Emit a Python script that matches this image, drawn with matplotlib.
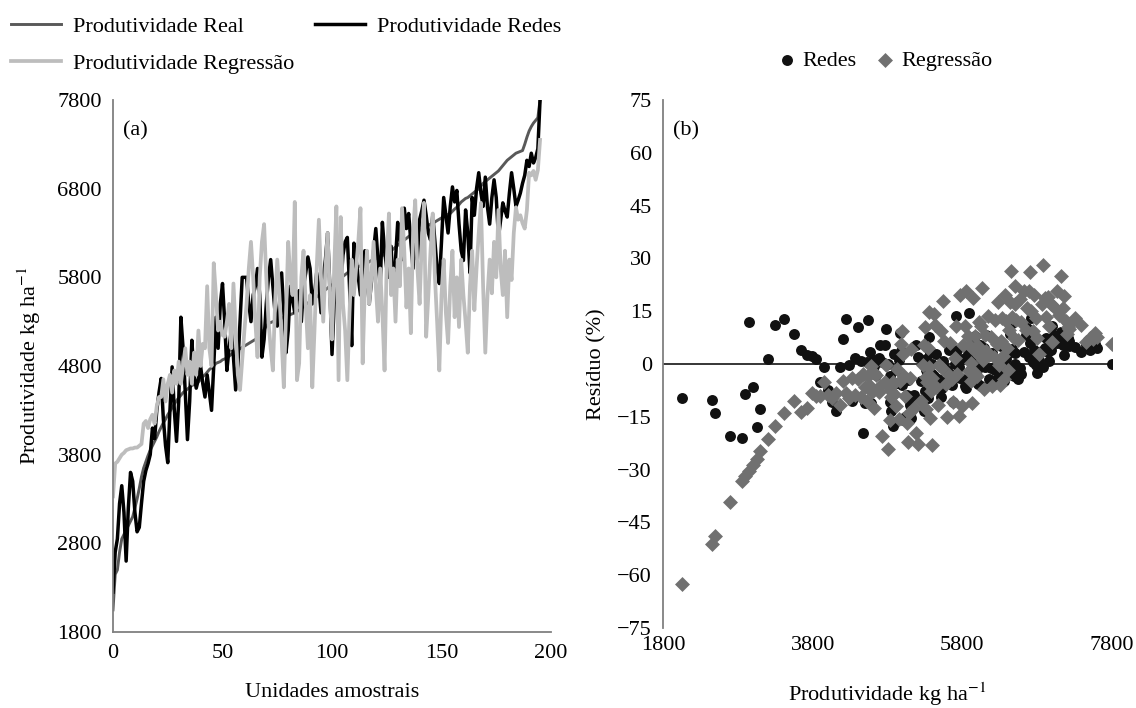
import matplotlib
matplotlib.use('Agg')
import matplotlib.pyplot as plt
import numpy as np

# ---------------- data ----------------
real = [
    2050, 2450, 2500, 2700, 2850, 2900, 2950, 3000, 3050, 3100,
    3200, 3300, 3420, 3550, 3650, 3720, 3790, 3850, 3900, 3950,
    4000, 4060, 4110, 4160, 4200, 4250, 4290, 4330, 4370, 4410,
    4440, 4470, 4500, 4520, 4540, 4560, 4580, 4590, 4600, 4620,
    4650, 4680, 4700, 4730, 4760, 4780, 4800, 4830, 4840, 4850,
    4870, 4880, 4890, 4910, 4930, 4950, 4965, 4980, 4995, 5010,
    5025, 5040, 5055, 5070, 5085, 5100, 5120, 5150, 5180, 5210,
    5250, 5280, 5290, 5300, 5310, 5320, 5330, 5340, 5350, 5360,
    5370, 5380, 5390, 5400, 5415, 5430, 5450, 5470, 5490, 5510,
    5530, 5545, 5560, 5580, 5600, 5620, 5640, 5660, 5680, 5700,
    5715, 5730, 5750, 5770, 5790, 5810, 5830, 5850, 5870, 5885,
    5900, 5910, 5920, 5930, 5940, 5950, 5960, 5975, 5990, 6000,
    6010, 6020, 6030, 6045, 6060, 6070, 6085, 6100, 6120, 6140,
    6160, 6180, 6200, 6220, 6240, 6260, 6280, 6290, 6300, 6320,
    6330, 6345, 6360, 6370, 6385, 6400, 6410, 6425, 6440, 6455,
    6470, 6485, 6500, 6510, 6520, 6545, 6570, 6590, 6620, 6650,
    6670, 6690, 6700, 6720, 6740, 6760, 6780, 6800, 6830, 6860,
    6880, 6900, 6920, 6940, 6960, 6980, 7000, 7030, 7060, 7090,
    7120, 7140, 7160, 7180, 7200, 7210, 7220, 7230, 7300, 7380,
    7450, 7500, 7540, 7570, 7600, 7800,
]

redes = [
    2250, 2700, 2850, 3250, 3450, 3150, 2600, 3200, 3600, 3500,
    3150, 2930, 2980, 3250, 3500, 3620, 3700, 3800, 4100, 3980,
    4300, 4500, 4660, 4200, 3900, 3710, 4300, 4790, 4300, 3950,
    4400, 5350, 5000, 4500, 3970, 4400, 5090, 4700, 4550, 4650,
    4800, 4600, 4450, 4700, 4500, 4300, 4800, 5350, 5000, 5500,
    5730, 5300, 4750, 5000, 5200, 4900, 4530, 4800, 5300, 5800,
    5800, 5800, 5500, 5300, 5600, 5700, 5900, 5600, 4900, 5100,
    5500, 5800, 6000, 5700, 5400, 5250, 5500, 5850, 5400, 4950,
    5200, 5700, 5550, 5400, 5600, 5650, 5300, 5700, 5850, 6030,
    5900, 5500, 5600, 5850, 5700, 5400, 5800, 6000, 6300, 5700,
    4930, 5500, 5800, 6000, 5700, 6050, 6200, 6250, 5700, 5030,
    6185, 6000, 5800, 5600, 5900, 6100, 5800, 5500, 5750, 6100,
    6350, 6000, 5700, 6420, 6100, 5900, 5800, 6150, 5620, 6000,
    6420, 6250, 6000, 6580, 6350, 6520, 6200, 5900, 6300, 6000,
    6450, 6550, 6670, 6500, 6300, 6220, 6500, 6200, 5900, 5730,
    6200, 6700, 6500, 6300, 6600, 6820, 6650, 6780, 6400, 6100,
    5990, 6560, 6300, 5850, 6700, 6500, 6800, 6980, 6750, 6600,
    6930, 6590, 6400, 6700, 6900, 6700, 6250, 6450, 6640, 6550,
    6480, 6750, 6980, 6800, 6600, 6670, 6750, 6860, 6950, 7120,
    7050, 7200, 7090, 7150, 7250, 7800,
]

regressao = [
    3330, 3700, 3720, 3760, 3800, 3820, 3850, 3860, 3870, 3870,
    3880, 3880, 3900, 3920, 4150, 4180, 4100, 4200, 4250, 4150,
    4350, 4450, 4450, 4650, 4400, 4600, 4700, 4500, 4750, 4600,
    4850, 4600, 4800, 5000, 4700, 4850, 4600, 4950, 4700, 5200,
    4800, 5050, 5000, 5700, 5000, 4800, 5960, 5600, 5200, 5300,
    5150, 5130, 5300, 5500, 5000, 5730, 5200, 4700, 4530, 4870,
    5200, 5500, 5900, 6200, 5800, 5300, 4900, 5800, 6200, 6400,
    5800, 5300, 5000, 4750, 5500, 6000, 5600, 5100, 4560, 5400,
    6200, 5800, 5600, 6650, 4640, 4830, 5800, 6100, 5500, 5000,
    5600, 4560, 5200, 5900, 6450, 5800, 5300, 5900, 6300, 5600,
    5100, 5900, 6600, 4640, 6480, 5500, 5200, 4640, 5400, 6000,
    5600, 5900, 6200, 6580, 4830, 5700, 6100, 5500, 5800, 6200,
    5700, 5300, 5900, 5400, 4750, 6000, 6520, 5600, 5900, 5300,
    6000, 5700, 6580, 6100, 5460, 5900, 5170, 6300, 6670, 5900,
    5500, 6200, 6640, 5130, 5600, 6100, 6520, 5800, 5300, 4750,
    5600, 6000, 5400, 5060, 5700, 6100, 5350, 5800, 5240, 6000,
    5600, 5300, 4950, 5700, 6100, 5430, 5900, 6300, 6640, 5700,
    4950, 5600, 6000, 5620, 6200, 5800, 6560, 5900, 5600, 6100,
    5350, 6000, 5770, 6300, 6590, 6450, 6500, 6410, 6350, 6560,
    6980, 6950, 7000, 6900, 7010, 7350,
]

x_ticks_a = [0, 50, 100, 150, 200]
y_ticks_a = [1800, 2800, 3800, 4800, 5800, 6800, 7800]
x_ticks_b = [1800, 3800, 5800, 7800]
y_ticks_b = [75, 60, 45, 30, 15, 0, -15, -30, -45, -60, -75]

# ---------------- derived ----------------
real_a = np.array(real, dtype=float)
redes_a = np.array(redes, dtype=float)
reg_a = np.array(regressao, dtype=float)
idx = np.arange(len(real_a))
res_redes = (real_a - redes_a) / real_a * 100
res_reg = (real_a - reg_a) / real_a * 100

# ---------------- style ----------------
plt.rcParams['font.family'] = ['Liberation Serif', 'DejaVu Serif']
plt.rcParams['mathtext.fontset'] = 'stix'
plt.rcParams['font.size'] = 16
plt.rcParams['axes.unicode_minus'] = True

C_REAL = '#595959'
C_REDES = '#000000'
C_REG = '#bdbdbd'
C_SC_REDES = '#111111'
C_SC_REG = '#707070'
C_SPINE = '#808080'

fig = plt.figure(figsize=(11.36, 7.08), dpi=100)

# ---------------- panel (a) ----------------
ax1 = fig.add_axes([113/1136, 76/708, 438/1136, 532/708])
h_real, = ax1.plot(idx, real_a, color=C_REAL, lw=2.1, label='Produtividade Real')
h_redes, = ax1.plot(idx, redes_a, color=C_REDES, lw=2.5, label='Produtividade Redes')
h_reg, = ax1.plot(idx, reg_a, color=C_REG, lw=2.7, label='Produtividade Regressão')
ax1.set_xlim(0, 200)
ax1.set_ylim(1800, 7800)
ax1.set_xticks(x_ticks_a)
ax1.set_yticks(y_ticks_a)
for s in ['top', 'right']:
    ax1.spines[s].set_visible(False)
for s in ['left', 'bottom']:
    ax1.spines[s].set_color(C_SPINE)
    ax1.spines[s].set_linewidth(1.3)
ax1.tick_params(axis='both', length=0, labelsize=16)
ax1.tick_params(axis='x', pad=9)
ax1.tick_params(axis='y', pad=8)
ax1.set_xlabel('Unidades amostrais', fontsize=16, labelpad=14)
ax1.set_ylabel(r'Produtividade kg ha$^{-1}$', fontsize=16, labelpad=10)
ax1.text(0.022, 0.96, '(a)', transform=ax1.transAxes, fontsize=16, va='top', ha='left')

fig.legend(handles=[h_real, h_reg, h_redes], loc='upper left',
           bbox_to_anchor=(-0.002, 0.996), ncol=2, frameon=False, fontsize=16,
           handlelength=2.25, handletextpad=0.55, columnspacing=0.9,
           labelspacing=0.75, borderaxespad=0.2)

# ---------------- panel (b) ----------------
ax2 = fig.add_axes([663/1136, 80/708, 449/1136, 528/708])
sc1 = ax2.scatter(real_a, res_redes, s=62, marker='o', color=C_SC_REDES,
                  linewidths=0, label='Redes', zorder=3)
sc2 = ax2.scatter(real_a, res_reg, s=58, marker='D', color=C_SC_REG,
                  linewidths=0, label='Regressão', zorder=4)
ax2.axhline(0, color='black', lw=1.1, zorder=2)
ax2.set_xlim(1800, 7800)
ax2.set_ylim(-75, 75)
ax2.set_xticks(x_ticks_b)
ax2.set_yticks(y_ticks_b)
for s in ['top', 'right', 'bottom']:
    ax2.spines[s].set_visible(False)
ax2.spines['left'].set_color(C_SPINE)
ax2.spines['left'].set_linewidth(1.3)
ax2.tick_params(axis='both', length=0, labelsize=16)
ax2.tick_params(axis='x', pad=6)
ax2.tick_params(axis='y', pad=8)
ax2.set_xlabel(r'Produtividade kg ha$^{-1}$', fontsize=16, labelpad=18)
ax2.set_ylabel('Resíduo (%)', fontsize=16, labelpad=8)
ax2.text(0.022, 0.96, '(b)', transform=ax2.transAxes, fontsize=16, va='top', ha='left')

fig.legend(handles=[sc1, sc2], loc='center', bbox_to_anchor=(885/1136, 1 - 61/708),
           ncol=2, frameon=False, fontsize=16, handlelength=0.8,
           handletextpad=0.3, columnspacing=0.9, markerscale=1.0)

fig.savefig('out.png', dpi=100)
